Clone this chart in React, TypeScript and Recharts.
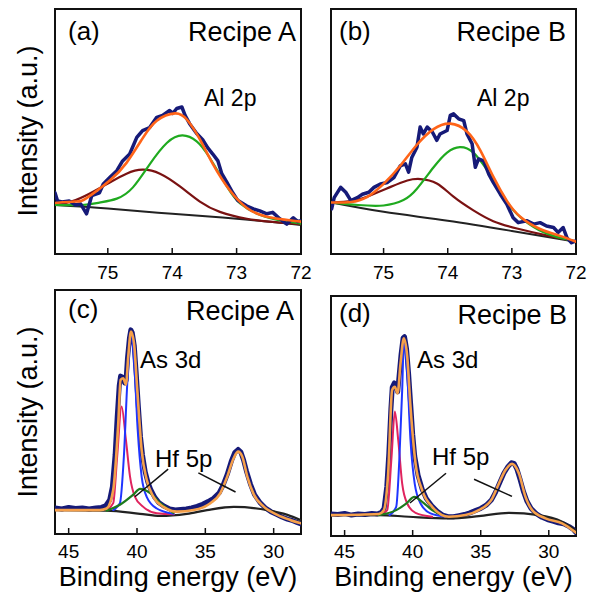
import React from 'react';
import { LineChart, Line, XAxis, YAxis, ReferenceArea, ReferenceLine } from 'recharts';

type P = [number, number];

const FONT = '"Liberation Sans", Arial, Helvetica, sans-serif';

// ---------- Panel (a): Al 2p, Recipe A ----------
const aRaw: P[] = [[75.82,1.25],[75.78,1.08],[75.71,1.06],[75.6,1.08],[75.5,1.0],[75.42,1.02],[75.33,0.82],[75.25,1.19],[75.13,1.25],[75.07,1.43],[74.97,1.56],[74.86,1.7],[74.77,1.9],[74.66,2.04],[74.55,2.38],[74.46,2.52],[74.35,2.58],[74.24,2.79],[74.15,2.83],[74.04,2.93],[73.99,2.87],[73.93,2.97],[73.85,3.0],[73.8,2.83],[73.73,2.66],[73.62,2.46],[73.52,2.32],[73.45,2.17],[73.37,2.04],[73.29,1.9],[73.23,1.64],[73.15,1.46],[73.06,1.25],[72.98,1.09],[72.84,0.98],[72.74,0.92],[72.64,0.88],[72.53,0.82],[72.44,0.85],[72.33,0.72],[72.22,0.61],[72.12,0.74],[72.05,0.66],[72.0,0.68]];
const aFit: P[] = [[75.82,1.04],[75.5,1.07],[75.33,1.14],[74.97,1.5],[74.71,1.86],[74.46,2.36],[74.24,2.72],[73.96,2.87],[73.77,2.74],[73.57,2.34],[73.37,1.84],[73.1,1.29],[72.84,0.94],[72.53,0.76],[72.0,0.66]];
const aGreen: P[] = [[75.82,1.0],[75.4,1.0],[75.13,1.05],[74.86,1.13],[74.61,1.36],[74.35,1.83],[74.08,2.27],[73.84,2.42],[73.62,2.3],[73.42,1.97],[73.15,1.38],[72.95,1.04],[72.64,0.8],[72.3,0.68],[72.0,0.62]];
const aBrown: P[] = [[75.82,1.0],[75.5,1.1],[75.2,1.29],[74.97,1.46],[74.71,1.64],[74.46,1.72],[74.19,1.64],[73.88,1.38],[73.57,1.07],[73.26,0.86],[72.84,0.72],[72.4,0.65],[72.0,0.61]];
const aBg: P[] = [[75.82,1.0],[75.0,0.93],[74.0,0.82],[73.0,0.72],[72.0,0.59]];

// ---------- Panel (b): Al 2p, Recipe B ----------
const bRaw: P[] = [[75.81,0.92],[75.77,1.15],[75.67,1.36],[75.59,1.26],[75.51,1.09],[75.41,1.15],[75.33,1.22],[75.23,1.26],[75.15,1.36],[75.05,1.43],[74.94,1.46],[74.84,1.56],[74.74,1.8],[74.66,1.84],[74.61,1.67],[74.56,1.97],[74.48,2.18],[74.43,2.59],[74.38,2.45],[74.32,2.59],[74.24,2.49],[74.17,2.32],[74.12,2.45],[74.01,2.52],[73.96,2.83],[73.91,2.86],[73.83,2.76],[73.75,2.72],[73.7,2.45],[73.62,2.25],[73.57,1.77],[73.52,1.94],[73.44,1.9],[73.36,1.63],[73.29,1.46],[73.18,1.22],[73.08,1.02],[72.98,0.74],[72.9,0.64],[72.77,0.68],[72.66,0.61],[72.56,0.64],[72.46,0.57],[72.35,0.54],[72.28,0.44],[72.2,0.54],[72.14,0.33],[72.07,0.23],[72.0,0.27]];
const bFit: P[] = [[75.81,1.05],[75.51,1.06],[75.26,1.16],[75.0,1.43],[74.74,1.8],[74.48,2.23],[74.22,2.55],[73.96,2.66],[73.7,2.5],[73.49,2.11],[73.29,1.58],[73.08,1.09],[72.87,0.76],[72.56,0.51],[72.25,0.37],[72.0,0.25]];
const bGreen: P[] = [[75.81,1.05],[75.4,1.0],[75.0,0.99],[74.69,1.1],[74.48,1.33],[74.22,1.77],[74.01,2.07],[73.81,2.18],[73.6,2.07],[73.39,1.72],[73.18,1.29],[72.98,0.9],[72.66,0.55],[72.35,0.37],[72.0,0.25]];
const bBrown: P[] = [[75.81,1.05],[75.5,1.08],[75.26,1.17],[74.89,1.37],[74.63,1.5],[74.43,1.53],[74.17,1.44],[73.91,1.17],[73.6,0.89],[73.29,0.67],[72.92,0.52],[72.46,0.38],[72.0,0.26]];
const bBg: P[] = [[75.81,1.05],[75.0,0.86],[74.0,0.68],[73.0,0.47],[72.0,0.25]];

// ---------- Panel (c): As 3d / Hf 5p, Recipe A ----------
const cRaw: P[] = [[46.0,-0.1],[45.5,-0.12],[45.0,-0.09],[44.5,-0.11],[44.0,-0.1],[43.5,-0.12],[43.0,-0.1],[42.6,-0.09],[42.3,-0.06],[42.0,0.05],[41.8,0.3],[41.6,0.9],[41.45,1.6],[41.3,2.2],[41.2,2.38],[41.05,2.36],[40.9,2.25],[40.8,2.3],[40.7,2.7],[40.55,3.1],[40.45,3.25],[40.35,3.2],[40.2,2.95],[40.05,2.4],[39.9,1.8],[39.75,1.25],[39.6,0.9],[39.4,0.58],[39.2,0.38],[39.0,0.25],[38.7,0.1],[38.4,0.0],[38.0,-0.07],[37.6,-0.12],[37.2,-0.14],[36.8,-0.13],[36.4,-0.12],[36.0,-0.1],[35.6,-0.07],[35.2,-0.03],[34.8,0.02],[34.4,0.08],[34.0,0.18],[33.7,0.33],[33.4,0.53],[33.1,0.78],[32.85,0.94],[32.6,1.0],[32.4,0.95],[32.2,0.8],[32.0,0.6],[31.7,0.35],[31.4,0.15],[31.0,0.0],[30.6,-0.1],[30.2,-0.17],[29.8,-0.22],[29.4,-0.27],[29.0,-0.31],[28.6,-0.34],[28.3,-0.37],[28.0,-0.4]];
const cFit: P[] = [[46.0,-0.14],[42.72,-0.14],[42.23,-0.11],[41.74,0.24],[41.37,1.5],[41.2,2.31],[41.01,2.34],[40.81,2.22],[40.64,2.75],[40.44,3.22],[40.22,3.0],[39.98,2.12],[39.66,0.99],[39.29,0.43],[38.8,0.11],[38.07,-0.08],[37.08,-0.17],[35.86,-0.14],[34.63,-0.01],[33.9,0.18],[33.4,0.49],[32.92,0.84],[32.6,0.96],[32.3,0.87],[31.93,0.49],[31.45,0.15],[30.71,-0.08],[29.73,-0.23],[28.75,-0.33],[28.0,-0.39]];
const cRed: P[] = [[42.23,-0.14],[41.74,-0.01],[41.45,0.87],[41.13,1.81],[40.81,1.18],[40.51,0.49],[40.15,0.11],[39.54,-0.08],[38.55,-0.2],[37.3,-0.22]];
const cBlue: P[] = [[41.74,-0.14],[41.25,-0.01],[40.96,0.87],[40.71,2.25],[40.44,3.16],[40.2,2.62],[39.95,1.37],[39.66,0.49],[39.29,0.11],[38.55,-0.11],[37.33,-0.21]];
const cGreen: P[] = [[42.23,-0.15],[41.25,-0.04],[40.27,0.15],[39.78,0.26],[39.04,0.18],[38.31,-0.01],[37.33,-0.19]];
const cBg: P[] = [[46.0,-0.14],[42.23,-0.15],[39.78,-0.21],[38.31,-0.25],[36.35,-0.21],[34.88,-0.14],[32.92,-0.08],[30.46,-0.14],[28.99,-0.23],[28.0,-0.33]];
const cLeaders: [P, P][] = [[[37.72,0.63],[40.15,0.11]], [[35.51,0.56],[32.79,0.2]]];

// ---------- Panel (d): As 3d / Hf 5p, Recipe B ----------
const dRaw: P[] = [[46.0,-0.1],[45.5,-0.11],[45.0,-0.09],[44.5,-0.12],[44.0,-0.1],[43.5,-0.11],[43.0,-0.09],[42.6,-0.1],[42.3,-0.07],[42.1,0.0],[41.9,0.4],[41.75,1.0],[41.6,1.8],[41.5,2.2],[41.35,2.28],[41.2,2.22],[41.1,2.12],[41.0,2.4],[40.85,2.8],[40.7,3.1],[40.6,3.12],[40.45,2.9],[40.3,2.45],[40.15,1.9],[40.0,1.35],[39.85,0.95],[39.6,0.6],[39.3,0.35],[39.0,0.18],[38.6,0.05],[38.2,-0.05],[37.8,-0.12],[37.4,-0.15],[37.0,-0.15],[36.6,-0.13],[36.2,-0.11],[35.8,-0.08],[35.4,-0.04],[35.0,0.0],[34.6,0.06],[34.2,0.16],[33.9,0.3],[33.6,0.47],[33.3,0.64],[33.0,0.76],[32.75,0.83],[32.55,0.82],[32.35,0.72],[32.1,0.52],[31.85,0.3],[31.6,0.13],[31.3,0.0],[30.9,-0.1],[30.5,-0.16],[30.1,-0.2],[29.7,-0.23],[29.3,-0.26],[28.9,-0.28],[28.5,-0.33],[28.2,-0.38],[28.0,-0.44]];
const dFit: P[] = [[46.0,-0.12],[42.49,-0.1],[42.12,-0.03],[41.8,0.64],[41.51,2.15],[41.31,2.21],[41.11,2.09],[40.89,2.64],[40.65,3.09],[40.4,2.76],[40.16,1.85],[39.79,0.82],[39.3,0.33],[38.57,0.03],[37.34,-0.15],[36.12,-0.12],[35.14,-0.03],[34.16,0.18],[33.67,0.45],[33.18,0.7],[32.69,0.81],[32.2,0.64],[31.71,0.21],[31.22,-0.03],[30.24,-0.18],[29.02,-0.27],[28.0,-0.44]];
const dRed: P[] = [[42.49,-0.12],[41.87,-0.03],[41.55,0.94],[41.31,1.76],[41.06,1.24],[40.77,0.45],[40.4,0.09],[39.79,-0.08],[38.57,-0.15]];
const dBlue: P[] = [[41.7,-0.12],[41.21,0.03],[40.97,0.94],[40.77,2.15],[40.65,3.0],[40.4,2.45],[40.16,1.24],[39.85,0.45],[39.42,0.09],[38.69,-0.09],[37.59,-0.15]];
const dGreen: P[] = [[42.49,-0.12],[41.21,-0.03],[40.48,0.09],[39.87,0.21],[39.3,0.12],[38.57,-0.03],[37.59,-0.14]];
const dBg: P[] = [[46.0,-0.12],[42.49,-0.12],[40.28,-0.15],[37.34,-0.18],[35.14,-0.14],[32.93,-0.08],[30.73,-0.12],[29.02,-0.24],[28.0,-0.4]];
const dLeaders: [P, P][] = [[[37.55,0.64],[40.2,0.1]], [[35.49,0.53],[32.7,0.22]]];

// ---------- Axes ----------
const alTicks = [75, 74, 73, 72];
const alDomain: [number, number] = [72, 75.82];
const alYTicks = [1, 2, 3, 4];
const asTicks = [45, 40, 35, 30];
const asDomain: [number, number] = [28, 46];
const asYTicks = [0, 1, 2, 3];

const toPts = (a: P[]) => a.map(([x, y]) => ({ x, y }));

type Series = { data: P[]; color: string; w: number; type: 'monotone' | 'linear' | 'natural' };

interface PanelProps {
  left: number; top: number; width: number; height: number;
  margin: { top: number; right: number; bottom: number; left: number };
  xDomain: [number, number]; xTicks: number[];
  yDomain: [number, number]; yTicks: number[];
  tickMargin: number;
  series: Series[]; leaders?: [P, P][];
}

function Panel(p: PanelProps) {
  return (
    <div style={{ position: 'absolute', left: p.left, top: p.top }}>
      <LineChart width={p.width} height={p.height} margin={p.margin}>
        <XAxis
          type="number" dataKey="x" domain={p.xDomain} reversed ticks={p.xTicks} interval={0}
          allowDataOverflow height={30} tickSize={-6} tickMargin={p.tickMargin}
          axisLine={{ stroke: '#111', strokeWidth: 2 }}
          tickLine={{ stroke: '#111', strokeWidth: 1.5 }}
          tick={{ fontSize: 19, fill: '#000', fontFamily: FONT }}
        />
        <YAxis
          type="number" dataKey="y" domain={p.yDomain} ticks={p.yTicks} interval={0}
          allowDataOverflow width={0} tick={false} tickSize={-7}
          axisLine={{ stroke: '#111', strokeWidth: 2 }}
          tickLine={{ stroke: '#111', strokeWidth: 1.5 }}
        />
        <ReferenceArea
          x1={p.xDomain[0]} x2={p.xDomain[1]} y1={p.yDomain[0]} y2={p.yDomain[1]}
          fill="none" fillOpacity={0} stroke="#111" strokeWidth={2} ifOverflow="visible"
        />
        {p.series.map((s, i) => (
          <Line
            key={i} data={toPts(s.data)} dataKey="y" type={s.type} stroke={s.color}
            strokeWidth={s.w} dot={false} activeDot={false} isAnimationActive={false}
            strokeLinejoin="round" strokeLinecap="round"
          />
        ))}
        {(p.leaders || []).map((l, i) => (
          <ReferenceLine
            key={'l' + i}
            segment={[{ x: l[0][0], y: l[0][1] }, { x: l[1][0], y: l[1][1] }]}
            stroke="#111" strokeWidth={1.5} ifOverflow="visible"
          />
        ))}
      </LineChart>
    </div>
  );
}

const NAVY = '#161a78';
const BLACK = '#222';

const texts: { t: string; x: number; y: number; a: 'start' | 'end' | 'middle'; s: number }[] = [
  { t: '(a)', x: 68, y: 40, a: 'start', s: 26 },
  { t: 'Recipe A', x: 296, y: 41, a: 'end', s: 27 },
  { t: 'Al 2p', x: 204, y: 106, a: 'start', s: 23 },
  { t: '(b)', x: 339, y: 40, a: 'start', s: 26 },
  { t: 'Recipe B', x: 566, y: 41, a: 'end', s: 27 },
  { t: 'Al 2p', x: 477, y: 106, a: 'start', s: 23 },
  { t: '(c)', x: 68, y: 318, a: 'start', s: 26 },
  { t: 'Recipe A', x: 294, y: 320, a: 'end', s: 27 },
  { t: 'As 3d', x: 140, y: 368, a: 'start', s: 24 },
  { t: 'Hf 5p', x: 155, y: 467, a: 'start', s: 24 },
  { t: '(d)', x: 339, y: 322, a: 'start', s: 26 },
  { t: 'Recipe B', x: 567, y: 324, a: 'end', s: 27 },
  { t: 'As 3d', x: 417, y: 368, a: 'start', s: 24 },
  { t: 'Hf 5p', x: 432, y: 465, a: 'start', s: 24 },
  { t: 'Binding energy (eV)', x: 178, y: 586, a: 'middle', s: 27 },
  { t: 'Binding energy (eV)', x: 453.5, y: 586, a: 'middle', s: 27 },
];

export default function App() {
  return (
    <div style={{ position: 'absolute', left: 0, top: 0, width: 597, height: 597, background: '#fff', overflow: 'hidden' }}>
      <Panel
        left={0} top={0} width={320} height={290}
        margin={{ top: 9, right: 19, bottom: 6, left: 55 }}
        xDomain={alDomain} xTicks={alTicks} yDomain={[0, 5]} yTicks={alYTicks} tickMargin={18}
        series={[
          { data: aBg, color: BLACK, w: 2, type: 'natural' },
          { data: aBrown, color: '#7a1212', w: 2.2, type: 'natural' },
          { data: aGreen, color: '#1faa1f', w: 2.2, type: 'natural' },
          { data: aRaw, color: NAVY, w: 3.5, type: 'linear' },
          { data: aFit, color: '#ff6418', w: 2.6, type: 'natural' },
        ]}
      />
      <Panel
        left={310} top={0} width={287} height={290}
        margin={{ top: 9, right: 21, bottom: 6, left: 21 }}
        xDomain={alDomain} xTicks={alTicks} yDomain={[0, 5]} yTicks={alYTicks} tickMargin={18}
        series={[
          { data: bBg, color: BLACK, w: 2, type: 'natural' },
          { data: bBrown, color: '#7a1212', w: 2.2, type: 'natural' },
          { data: bGreen, color: '#1faa1f', w: 2.2, type: 'natural' },
          { data: bRaw, color: NAVY, w: 3.5, type: 'linear' },
          { data: bFit, color: '#ff6418', w: 2.6, type: 'natural' },
        ]}
      />
      <Panel
        left={0} top={280} width={320} height={317}
        margin={{ top: 10, right: 19, bottom: 33, left: 55 }}
        xDomain={asDomain} xTicks={asTicks} yDomain={[-0.59, 4.0]} yTicks={asYTicks} tickMargin={17}
        series={[
          { data: cRaw, color: NAVY, w: 5, type: 'linear' },
          { data: cBg, color: BLACK, w: 2.2, type: 'monotone' },
          { data: cRed, color: '#e0245e', w: 2, type: 'monotone' },
          { data: cBlue, color: '#1f35ff', w: 2, type: 'monotone' },
          { data: cGreen, color: '#1d7a1d', w: 2.2, type: 'monotone' },
          { data: cFit, color: '#f5a04a', w: 2.6, type: 'monotone' },
        ]}
        leaders={cLeaders}
      />
      <Panel
        left={310} top={280} width={287} height={317}
        margin={{ top: 16, right: 21, bottom: 31, left: 21 }}
        xDomain={asDomain} xTicks={asTicks} yDomain={[-0.5, 3.86]} yTicks={asYTicks} tickMargin={15}
        series={[
          { data: dRaw, color: NAVY, w: 5, type: 'linear' },
          { data: dBg, color: BLACK, w: 2.2, type: 'monotone' },
          { data: dRed, color: '#e0245e', w: 2, type: 'monotone' },
          { data: dBlue, color: '#1f35ff', w: 2, type: 'monotone' },
          { data: dGreen, color: '#1d7a1d', w: 2.2, type: 'monotone' },
          { data: dFit, color: '#f5a04a', w: 2.6, type: 'monotone' },
        ]}
        leaders={dLeaders}
      />
      <svg width={597} height={597} style={{ position: 'absolute', left: 0, top: 0, pointerEvents: 'none' }}>
        {texts.map((t, i) => (
          <text key={i} x={t.x} y={t.y} textAnchor={t.a} fontSize={t.s} fontFamily={FONT} fill="#000">{t.t}</text>
        ))}
        <text transform="translate(37,131) rotate(-90)" textAnchor="middle" fontSize={27} fontFamily={FONT} fill="#000">Intensity (a.u.)</text>
        <text transform="translate(37,412) rotate(-90)" textAnchor="middle" fontSize={27} fontFamily={FONT} fill="#000">Intensity (a.u.)</text>
      </svg>
    </div>
  );
}
